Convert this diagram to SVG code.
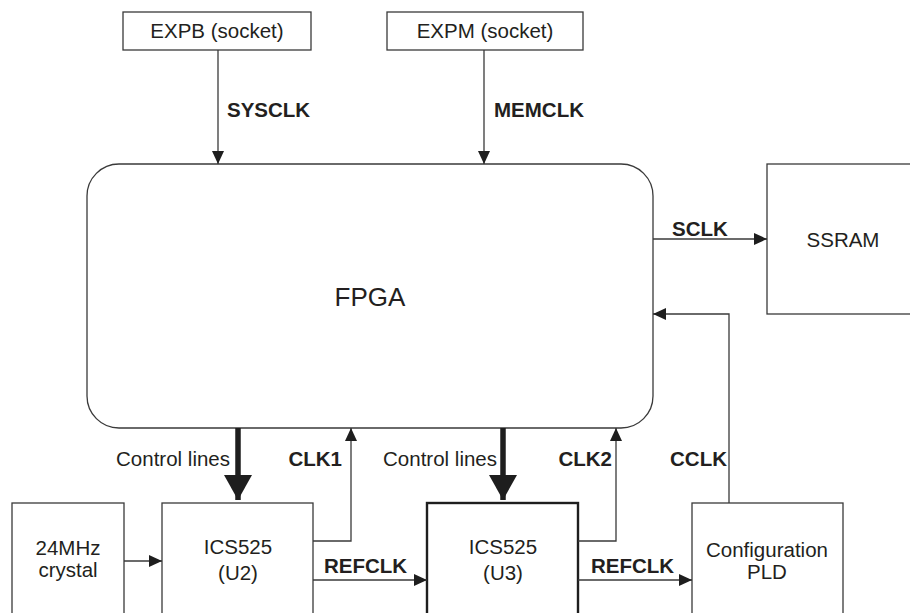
<svg xmlns="http://www.w3.org/2000/svg" width="910" height="613" viewBox="0 0 910 613">
  <style>
    .box { fill: #ffffff; stroke: #3a3a3a; stroke-width: 1.3; }
    .box-bold { fill: #ffffff; stroke: #1e1e1e; stroke-width: 2.4; }
    .wire { fill: none; stroke: #3a3a3a; stroke-width: 1.3; }
    .bus { fill: none; stroke: #1e1e1e; stroke-width: 5.5; }
    .t { font-family: "Liberation Sans", Arial, Helvetica, sans-serif; font-size: 20.5px; fill: #231f20; }
    .lbl { font-family: "Liberation Sans", Arial, Helvetica, sans-serif; font-size: 20.5px; font-weight: bold; fill: #231f20; }
    .mid { text-anchor: middle; }
    .end { text-anchor: end; }
  </style>
  <defs>
    <marker id="arr" markerUnits="userSpaceOnUse" markerWidth="14" markerHeight="12" refX="13" refY="6" orient="auto">
      <path d="M0,0 L13,6 L0,12 Z" fill="#1e1e1e"/>
    </marker>
    <marker id="arrBig" markerUnits="userSpaceOnUse" markerWidth="26" markerHeight="30" refX="25" refY="14" orient="auto">
      <path d="M0,0 L25,14 L0,28 Z" fill="#1e1e1e"/>
    </marker>
  </defs>

  <rect width="910" height="613" fill="#ffffff"/>

  <!-- nodes -->
  <g id="expb">
    <rect class="box" x="123" y="12" width="188" height="38"/>
    <text class="t mid" x="217" y="38">EXPB (socket)</text>
  </g>
  <g id="expm">
    <rect class="box" x="387" y="12" width="196" height="38"/>
    <text class="t mid" x="485" y="38">EXPM (socket)</text>
  </g>
  <g id="fpga">
    <rect class="box" x="87" y="164" width="566" height="264" rx="32" ry="32"/>
    <text class="t mid" x="370" y="306" style="font-size:26px">FPGA</text>
  </g>
  <g id="ssram">
    <rect class="box" x="767" y="164" width="160" height="150"/>
    <text class="t mid" x="843" y="247">SSRAM</text>
  </g>
  <g id="crystal">
    <rect class="box" x="12" y="503" width="112" height="130"/>
    <text class="t mid" x="68" y="555">24MHz</text>
    <text class="t mid" x="68" y="577">crystal</text>
  </g>
  <g id="ics525-u2">
    <rect class="box" x="162" y="503" width="151" height="130"/>
    <text class="t mid" x="238" y="554">ICS525</text>
    <text class="t mid" x="238" y="580">(U2)</text>
  </g>
  <g id="ics525-u3">
    <rect class="box-bold" x="427" y="503" width="151" height="130"/>
    <text class="t mid" x="503" y="554">ICS525</text>
    <text class="t mid" x="503" y="580">(U3)</text>
  </g>
  <g id="config-pld">
    <rect class="box" x="692" y="503" width="151" height="130"/>
    <text class="t mid" x="767" y="557">Configuration</text>
    <text class="t mid" x="767" y="579">PLD</text>
  </g>

  <!-- connectors -->
  <g id="connectors">
    <path class="wire" d="M218,50 V164" marker-end="url(#arr)"/>
    <text class="lbl" x="227" y="117">SYSCLK</text>

    <path class="wire" d="M484,50 V164" marker-end="url(#arr)"/>
    <text class="lbl" x="494" y="117">MEMCLK</text>

    <path class="wire" d="M653,239 H767" marker-end="url(#arr)"/>
    <text class="lbl" x="672" y="236">SCLK</text>

    <path class="wire" d="M729,503 V314 H653" marker-end="url(#arr)"/>
    <text class="lbl end" x="727" y="466">CCLK</text>

    <path class="bus" d="M238,428 V500" marker-end="url(#arrBig)"/>
    <text class="t end" x="230" y="466">Control lines</text>

    <path class="wire" d="M313,541 H351 V428" marker-end="url(#arr)"/>
    <text class="lbl end" x="342" y="466">CLK1</text>

    <path class="bus" d="M503,428 V500" marker-end="url(#arrBig)"/>
    <text class="t end" x="497" y="466">Control lines</text>

    <path class="wire" d="M578,541 H616 V428" marker-end="url(#arr)"/>
    <text class="lbl end" x="612" y="466">CLK2</text>

    <path class="wire" d="M124,561 H162" marker-end="url(#arr)"/>

    <path class="wire" d="M313,580 H427" marker-end="url(#arr)"/>
    <text class="lbl" x="324" y="573">REFCLK</text>

    <path class="wire" d="M578,580 H692" marker-end="url(#arr)"/>
    <text class="lbl" x="591" y="573">REFCLK</text>
  </g>
</svg>
